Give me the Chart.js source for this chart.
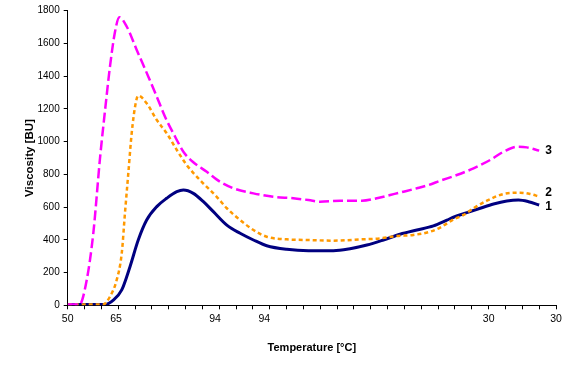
<!DOCTYPE html>
<html>
<head>
<meta charset="utf-8">
<script src="https://cdn.jsdelivr.net/npm/chart.js@4/dist/chart.umd.min.js"></script>
<style>
  html, body { margin: 0; padding: 0; background: #fff; }
  #wrap { width: 587px; height: 376px; position: relative; }
</style>
</head>
<body>
<div id="wrap"><canvas id="c" width="587" height="376"></canvas></div>
<script>
// ---- data (x in axis tick-interval units, y in BU) ----
const seriesNames = ['1', '2', '3'];

const t1 = [0, 1, 2.22, 2.71, 3.21, 3.70, 4.19, 4.69, 5.29, 5.88, 6.48, 6.87, 7.46, 8.06, 8.65, 9.45, 10.24, 11.03, 11.82, 13.01, 14.30, 15.78, 16.77, 17.77, 18.75, 19.74, 20.74, 21.72, 22.52, 22.91, 23.71, 24.50, 25.29, 26.08, 26.77, 27.37, 28.0];
const v1 = [5, 5, 5, 32, 94, 236, 399, 521, 603, 654, 694, 704, 684, 633, 572, 490, 440, 399, 364, 342, 334, 334, 346, 368, 399, 434, 460, 485, 520, 538, 566, 593, 619, 637, 643, 633, 613];

const t2 = [0, 1, 2.10, 2.51, 2.91, 3.21, 3.40, 3.60, 3.80, 4.00, 4.19, 4.69, 5.29, 5.88, 6.48, 7.07, 7.86, 8.85, 9.45, 10.24, 11.03, 11.82, 13.01, 14.30, 15.76, 17.47, 18.56, 19.55, 20.53, 21.53, 22.12, 22.92, 23.51, 24.10, 24.90, 25.88, 26.87, 27.46, 28.0];
const v2 = [5, 5, 5, 53, 155, 318, 562, 807, 1051, 1213, 1281, 1234, 1132, 1051, 949, 857, 765, 663, 593, 521, 460, 419, 403, 399, 395, 403, 409, 423, 430, 450, 475, 525, 552, 593, 639, 680, 688, 680, 665];

const t3 = [0, 0.70, 1.13, 1.52, 1.92, 2.22, 2.51, 2.81, 3.07, 3.51, 4.10, 4.79, 5.29, 5.78, 6.38, 6.87, 7.46, 8.26, 9.05, 9.84, 11.03, 12.22, 13.40, 14.30, 14.99, 16.18, 17.47, 18.36, 19.15, 19.94, 20.74, 21.43, 22.12, 23.11, 24.10, 25.09, 25.88, 26.68, 27.27, 28.0];
const v3 = [5, 5, 155, 440, 900, 1193, 1458, 1672, 1760, 1702, 1560, 1397, 1275, 1152, 1030, 938, 874, 816, 755, 715, 684, 663, 654, 643, 633, 639, 639, 654, 674, 694, 715, 735, 761, 796, 837, 888, 938, 969, 965, 945];

const xTickLabels = ['50', '65', '94', '94', '30', '30'];
const xTickLabelAt = [0, 2.87, 8.75, 11.68, 25, 29];
const xMin = 0, xMax = 29;
const yMin = 0, yMax = 1800, yStep = 200;

// ---- build ----
const toPts = (xs, ys) => xs.map((x, i) => ({ x: x, y: ys[i] }));
const FONT = '"Liberation Sans", Arial, sans-serif';

const endLabels = {
  id: 'endLabels',
  afterDatasetsDraw(chart, args, opts) {
    const ctx = chart.ctx;
    ctx.save();
    ctx.font = 'bold 12px ' + FONT;
    ctx.fillStyle = '#000';
    ctx.textAlign = 'left';
    ctx.textBaseline = 'middle';
    chart.data.datasets.forEach((ds, i) => {
      const meta = chart.getDatasetMeta(i);
      const last = meta.data[meta.data.length - 1];
      if (!last) return;
      ctx.fillText(ds.label, last.x + 6, last.y + opts.dy[i]);
    });
    ctx.restore();
  }
};

new Chart(document.getElementById('c'), {
  type: 'line',
  data: {
    datasets: [
      { label: seriesNames[0], data: toPts(t1, v1), borderColor: '#000080', borderWidth: 3, order: 3 },
      { label: seriesNames[1], data: toPts(t2, v2), borderColor: '#FF9900', borderWidth: 2.5, borderDash: [4, 3], order: 2 },
      { label: seriesNames[2], data: toPts(t3, v3), borderColor: '#FF00FF', borderWidth: 2.5, borderDash: [10, 4], order: 1 }
    ]
  },
  options: {
    responsive: false,
    animation: false,
    devicePixelRatio: 1,
    layout: { padding: { left: 0, top: 10.7, right: 31, bottom: 0 } },
    elements: {
      point: { radius: 0, hoverRadius: 0 },
      line: { fill: false, cubicInterpolationMode: 'monotone', borderCapStyle: 'butt' }
    },
    plugins: {
      legend: { display: false },
      tooltip: { enabled: false },
      endLabels: { dy: [2, -4, 0] }
    },
    scales: {
      x: {
        type: 'linear',
        min: xMin, max: xMax,
        afterBuildTicks(scale) {
          const vals = [];
          for (let v = xMin; v <= xMax; v++) vals.push(v);
          xTickLabelAt.forEach(v => { if (!vals.some(u => Math.abs(u - v) < 1e-6)) vals.push(v); });
          vals.sort((a, b) => a - b);
          scale.ticks = vals.map(v => ({ value: v }));
        },
        afterFit(scale) { scale.height = 70.7; },
        ticks: {
          autoSkip: false, maxRotation: 0, minRotation: 0,
          padding: 4,
          color: '#000',
          font: { family: FONT, size: 10.5 },
          callback(value) {
            const i = xTickLabelAt.findIndex(v => Math.abs(v - value) < 1e-6);
            return i >= 0 ? xTickLabels[i] : '';
          }
        },
        grid: {
          drawOnChartArea: false,
          drawTicks: true,
          tickLength: 4,
          tickColor: (c) => (c.tick && Number.isInteger(c.tick.value)) ? '#000' : 'rgba(0,0,0,0)'
        },
        border: { display: true, color: '#000', width: 1 },
        title: {
          display: true,
          text: 'Temperature [°C]',
          color: '#000',
          font: { family: FONT, size: 11, weight: 'bold' },
          padding: { top: 0, bottom: 21.5 }
        }
      },
      y: {
        type: 'linear',
        min: yMin, max: yMax,
        afterFit(scale) { scale.width = 67.7; },
        ticks: {
          stepSize: yStep,
          padding: 4,
          color: '#000',
          font: { family: FONT, size: 10 },
          callback: (v) => String(v)
        },
        grid: {
          drawOnChartArea: false,
          drawTicks: true,
          tickLength: 4,
          tickColor: '#000'
        },
        border: { display: true, color: '#000', width: 1 },
        title: {
          display: true,
          text: 'Viscosity [BU]',
          color: '#000',
          font: { family: FONT, size: 11.5, weight: 'bold' },
          padding: { top: 23, bottom: 0 }
        }
      }
    }
  },
  plugins: [endLabels]
});
</script>
</body>
</html>
